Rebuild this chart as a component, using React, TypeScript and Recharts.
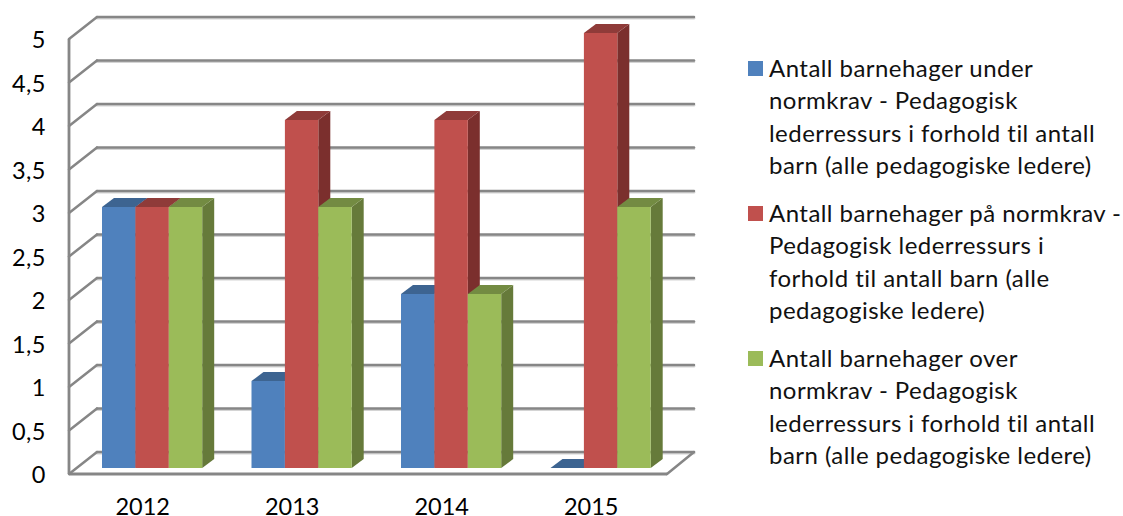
import React from "react";
import { BarChart, Bar, XAxis, YAxis, CartesianGrid, Legend } from "recharts";

const categories = ["2012", "2013", "2014", "2015"];
const under = [3, 1, 2, 0];
const at = [3, 4, 4, 5];
const over = [3, 3, 2, 3];
const yTicks = [0, 0.5, 1, 1.5, 2, 2.5, 3, 3.5, 4, 4.5, 5];
const seriesNames = [
  "Antall barnehager under normkrav - Pedagogisk lederressurs i forhold til antall barn (alle pedagogiske ledere)",
  "Antall barnehager på normkrav - Pedagogisk lederressurs i forhold til antall barn (alle pedagogiske ledere)",
  "Antall barnehager over normkrav - Pedagogisk lederressurs i forhold til antall barn (alle pedagogiske ledere)",
];
const legendLines = [
  ["Antall barnehager under", "normkrav - Pedagogisk", "lederressurs i forhold til antall", "barn (alle pedagogiske ledere)"],
  ["Antall barnehager på normkrav -", "Pedagogisk lederressurs i", "forhold til antall barn (alle", "pedagogiske ledere)"],
  ["Antall barnehager over", "normkrav - Pedagogisk", "lederressurs i forhold til antall", "barn (alle pedagogiske ledere)"],
];
const frontColors = ["#4F81BD", "#C0504D", "#9BBB59"];
const topColors = ["#3D6491", "#8F3B39", "#738B42"];
const sideColors = ["#32527A", "#7B2F2D", "#667A3A"];

const data = categories.map((c, i) => ({ c, under: under[i], at: at[i], over: over[i] }));

const FONT = "Lato, sans-serif";
const GRID = "#868686";
const DX = 12;
const DY = 9;

function Box(idx: number) {
  return (p: any) => {
    const { x, y, width: w, height: h } = p;
    return (
      <g>
        <polygon points={`${x + w},${y} ${x + w + DX},${y - DY} ${x + w + DX},${y + h - DY} ${x + w},${y + h}`} fill={sideColors[idx]} />
        <polygon points={`${x},${y} ${x + DX},${y - DY} ${x + w + DX},${y - DY} ${x + w},${y}`} fill={topColors[idx]} />
        {h > 0 && <rect x={x} y={y} width={w} height={h} fill={frontColors[idx]} />}
      </g>
    );
  };
}

function gridLine(p: any) {
  const { x1, x2, y1 } = p;
  const fx = x1 - 8;
  const fy = y1 + 6;
  const bx1 = x1 + 20;
  const bx2 = x2 + 19;
  const by = y1 - 16;
  const isFloor = Math.abs(y1 - 468) < 1;
  return (
    <g key={`g-${y1}`} fill="none" strokeLinecap="round">
      <line x1={bx1} y1={by + 1.2} x2={bx2} y2={by + 1.2} stroke="#d4d4d4" strokeWidth={2.6} />
      <line x1={bx1} y1={by} x2={bx2} y2={by} stroke={GRID} strokeWidth={2.5} />
      <line x1={fx} y1={fy} x2={bx1} y2={by} stroke={GRID} strokeWidth={2.5} />
      {isFloor && <line x1={x2 - 8} y1={fy} x2={bx2} y2={by} stroke={GRID} strokeWidth={2.5} />}
    </g>
  );
}

function YTick(p: any) {
  const v = String(p.payload.value).replace(".", ",");
  return (
    <text x={46} y={p.y + 6} textAnchor="end" dominantBaseline="central" fontFamily={FONT} fontSize={23.5} letterSpacing={0.5} fill="#000">
      {v}
    </text>
  );
}

function XTick(p: any) {
  return (
    <text x={p.x - 9} y={506} textAnchor="middle" dominantBaseline="central" fontFamily={FONT} fontSize={23.5} fill="#000">
      {p.payload.value}
    </text>
  );
}

function LegendBox() {
  return (
    <div style={{ width: 375, fontFamily: FONT, fontSize: 24, letterSpacing: 0.45, lineHeight: "32.4px", color: "#111", textAlign: "left" }}>
      {legendLines.map((lines, i) => (
        <div key={i} style={{ position: "relative", paddingLeft: 21, marginBottom: 15.4, whiteSpace: "nowrap" }}>
          <span style={{ position: "absolute", left: 0, top: 9, width: 15, height: 15, background: frontColors[i] }} />
          {lines.map((l) => (
            <div key={l}>{l}</div>
          ))}
        </div>
      ))}
    </div>
  );
}

export default function App() {
  return (
    <div style={{ position: "absolute", left: 0, top: 0 }}>
      <BarChart
        width={1123}
        height={516}
        data={data}
        margin={{ top: 33, right: 73, bottom: 0, left: 0 }}
        barSize={33.4}
        barGap={0}
      >
        <CartesianGrid horizontal={gridLine as any} vertical={false} />
        <XAxis
          dataKey="c"
          height={48}
          tick={XTick as any}
          tickLine={false}
          axisLine={{ stroke: GRID, strokeWidth: 2.8, transform: "translate(-8,6)" } as any}
        />
        <YAxis
          width={77}
          domain={[0, 5]}
          ticks={yTicks}
          interval={0}
          tick={YTick as any}
          tickLine={false}
          axisLine={{ stroke: GRID, strokeWidth: 2.8, transform: "translate(-8,6)" } as any}
        />
        <Legend
          layout="vertical"
          align="right"
          verticalAlign="top"
          content={LegendBox as any}
          wrapperStyle={{ right: 0, top: 52 }}
        />
        <Bar dataKey="under" name={seriesNames[0]} fill={frontColors[0]} shape={Box(0) as any} isAnimationActive={false} />
        <Bar dataKey="at" name={seriesNames[1]} fill={frontColors[1]} shape={Box(1) as any} isAnimationActive={false} />
        <Bar dataKey="over" name={seriesNames[2]} fill={frontColors[2]} shape={Box(2) as any} isAnimationActive={false} />
      </BarChart>
    </div>
  );
}
